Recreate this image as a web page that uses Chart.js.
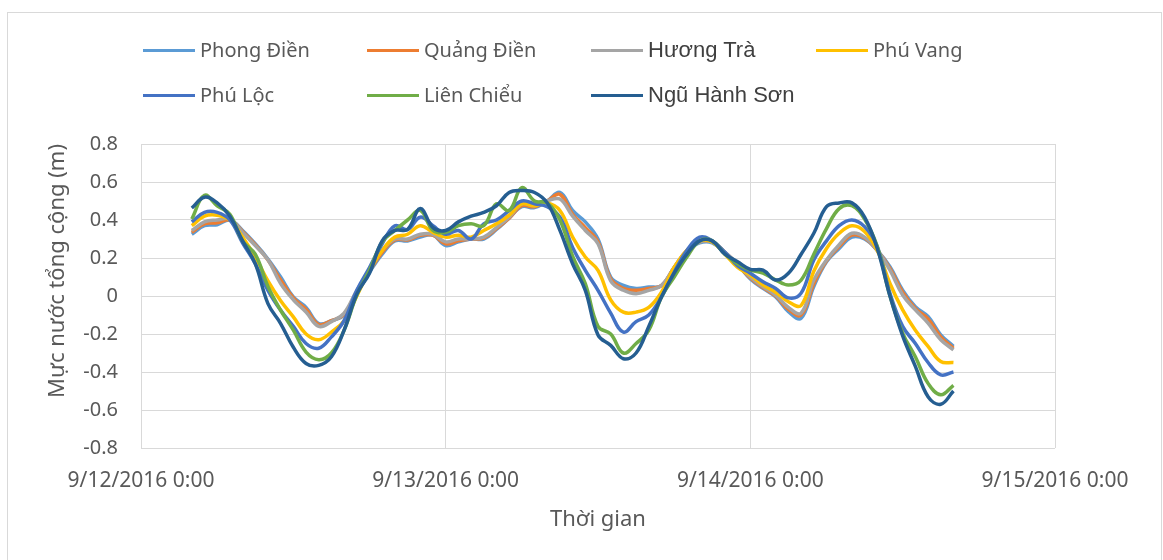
<!DOCTYPE html>
<html>
<head>
<meta charset="utf-8">
<script src="https://cdn.jsdelivr.net/npm/chart.js@4"></script>
<style>
  html, body { margin: 0; padding: 0; background: #fff; }
  body { width: 1163px; height: 560px; position: relative; overflow: hidden; }
  #frame { position: absolute; left: 7px; top: 12px; width: 1153px; height: 600px; border: 1px solid #D9D9D9; }
  #myChart { position: absolute; left: 0; top: 0; }
  .lg-line { position: absolute; width: 52px; height: 3px; }
  .lg-text { position: absolute; white-space: nowrap; line-height: 30px; height: 30px; }
</style>
</head>
<body>
<div id="frame"></div>
<canvas id="myChart" width="1163" height="560"></canvas>
<div id="legend"></div>
<script>
// hours since 9/12/2016 0:00 (hourly, 4:00 on 9/12 to 16:00 on 9/14)
const hours = [];
for (let h = 4; h <= 64; h++) hours.push(h);

const seriesNames = ['Phong Điền', 'Quảng Điền', 'Hương Trà', 'Phú Vang', 'Phú Lộc', 'Liên Chiểu', 'Ngũ Hành Sơn'];
const colors = ['#5B9BD5', '#ED7D31', '#A5A5A5', '#FFC000', '#4472C4', '#70AD47', '#255E91'];

const phongDien = [
  0.325, 0.37, 0.375, 0.40, 0.345, 0.275, 0.195, 0.10, -0.005, -0.06,
  -0.145, -0.13, -0.10, 0.012, 0.125, 0.22, 0.29, 0.29, 0.31, 0.32,
  0.265, 0.285, 0.30, 0.30, 0.35, 0.41, 0.47, 0.465, 0.50, 0.545,
  0.45, 0.39, 0.30, 0.10, 0.056, 0.04, 0.047, 0.055, 0.15, 0.235,
  0.28, 0.28, 0.225, 0.165, 0.09, 0.04, -0.005, -0.082, -0.117, 0.05,
  0.18, 0.25, 0.31, 0.30, 0.24, 0.154, 0.031, -0.056, -0.108, -0.204,
  -0.265
];
const quangDien = [
  0.335, 0.38, 0.385, 0.40, 0.34, 0.27, 0.19, 0.085, -0.01, -0.07,
  -0.15, -0.13, -0.095, 0.02, 0.13, 0.23, 0.295, 0.295, 0.32, 0.32,
  0.275, 0.29, 0.30, 0.305, 0.355, 0.41, 0.475, 0.47, 0.50, 0.535,
  0.43, 0.36, 0.285, 0.09, 0.04, 0.03, 0.04, 0.055, 0.15, 0.24,
  0.285, 0.285, 0.23, 0.165, 0.095, 0.045, 0.0, -0.07, -0.10, 0.065,
  0.185, 0.26, 0.32, 0.305, 0.24, 0.145, 0.02, -0.065, -0.12, -0.215,
  -0.275
];
const huongTra = [
  0.345, 0.39, 0.40, 0.405, 0.335, 0.265, 0.19, 0.065, -0.02, -0.085,
  -0.16, -0.135, -0.09, 0.03, 0.135, 0.24, 0.30, 0.30, 0.325, 0.325,
  0.285, 0.30, 0.30, 0.31, 0.36, 0.415, 0.485, 0.475, 0.50, 0.51,
  0.42, 0.345, 0.275, 0.08, 0.03, 0.012, 0.03, 0.055, 0.15, 0.24,
  0.285, 0.285, 0.23, 0.17, 0.10, 0.05, 0.005, -0.06, -0.09, 0.084,
  0.19, 0.27, 0.33, 0.31, 0.24, 0.136, 0.005, -0.073, -0.143, -0.23,
  -0.283
];
const phuVang = [
  0.37, 0.42, 0.425, 0.40, 0.31, 0.205, 0.08, -0.025, -0.11, -0.20,
  -0.23, -0.19, -0.13, 0.0, 0.135, 0.24, 0.31, 0.325, 0.37, 0.335,
  0.31, 0.32, 0.31, 0.345, 0.38, 0.425, 0.485, 0.475, 0.49, 0.45,
  0.31, 0.205, 0.135, -0.02, -0.085, -0.085, -0.06, 0.02, 0.15, 0.24,
  0.29, 0.285, 0.22, 0.15, 0.11, 0.058, 0.02, -0.03, -0.05, 0.13,
  0.25, 0.33, 0.37, 0.34, 0.24, 0.066, -0.073, -0.18, -0.265, -0.345,
  -0.35
];
const phuLoc = [
  0.39, 0.44, 0.44, 0.40, 0.28, 0.17, 0.03, -0.075, -0.16, -0.25,
  -0.275, -0.215, -0.13, 0.03, 0.15, 0.275, 0.37, 0.35, 0.415, 0.37,
  0.325, 0.345, 0.30, 0.38, 0.40, 0.45, 0.50, 0.485, 0.47, 0.415,
  0.255, 0.135, 0.03, -0.09, -0.19, -0.135, -0.10, -0.005, 0.125, 0.24,
  0.31, 0.29, 0.23, 0.16, 0.12, 0.075, 0.04, -0.01, 0.015, 0.19,
  0.29, 0.37, 0.40, 0.365, 0.26, 0.014, -0.16, -0.25, -0.35, -0.415,
  -0.40
];
const lienChieu = [
  0.405, 0.53, 0.475, 0.43, 0.29, 0.22, 0.05, -0.075, -0.18, -0.295,
  -0.335, -0.30, -0.18, 0.005, 0.135, 0.285, 0.345, 0.40, 0.45, 0.345,
  0.335, 0.37, 0.38, 0.37, 0.485, 0.45, 0.57, 0.50, 0.49, 0.40,
  0.21, 0.065, -0.16, -0.20, -0.30, -0.25, -0.18, -0.005, 0.10, 0.205,
  0.29, 0.29, 0.22, 0.17, 0.136, 0.12, 0.084, 0.058, 0.084, 0.22,
  0.355, 0.46, 0.475, 0.405, 0.26, 0.0, -0.195, -0.32, -0.46, -0.52,
  -0.47
];
const nguHanhSon = [
  0.463, 0.52, 0.49, 0.42, 0.29, 0.17, -0.04, -0.145, -0.27, -0.355,
  -0.365, -0.32, -0.18, 0.01, 0.12, 0.29, 0.345, 0.35, 0.46, 0.36,
  0.345, 0.39, 0.42, 0.44, 0.475, 0.545, 0.555, 0.545, 0.49, 0.345,
  0.17, 0.03, -0.205, -0.26, -0.33, -0.30, -0.16, -0.005, 0.12, 0.22,
  0.29, 0.29, 0.22, 0.18, 0.14, 0.136, 0.084, 0.12, 0.22, 0.33,
  0.47, 0.49, 0.49, 0.415, 0.25, 0.0, -0.21, -0.37, -0.53, -0.57,
  -0.50
];

const allSeries = [phongDien, quangDien, huongTra, phuVang, phuLoc, lienChieu, nguHanhSon];
const xTickLabels = ['9/12/2016 0:00', '9/13/2016 0:00', '9/14/2016 0:00', '9/15/2016 0:00'];

const textColor = '#595959';
const gridColor = '#D9D9D9';

const ctx = document.getElementById('myChart').getContext('2d');

var myChart = new Chart(ctx, {
    type: 'line',
    data: {
        datasets: allSeries.map((vals, i) => ({
            label: seriesNames[i],
            data: hours.map((h, j) => ({ x: h, y: vals[j] })),
            borderColor: colors[i],
            backgroundColor: colors[i],
            order: allSeries.length - 1 - i
        }))
    },
    options: {
        responsive: false,
        animation: false,
        layout: { padding: { left: 0, right: 108, top: 144, bottom: 0 } },
        plugins: {
            legend: { display: false },
            tooltip: { enabled: false }
        },
        elements: {
            point: { radius: 0 },
            line: { borderWidth: 3.5, tension: 0.4 }
        },
        scales: {
            x: {
                type: 'linear',
                min: 0,
                max: 72,
                ticks: {
                    stepSize: 24,
                    maxRotation: 0,
                    autoSkip: false,
                    padding: 20,
                    color: textColor,
                    font: { family: 'Noto Sans', size: 21 },
                    callback: (v) => xTickLabels[Math.round(v / 24)]
                },
                grid: { color: gridColor, lineWidth: 1, drawTicks: false },
                border: { display: false },
                title: {
                    display: true,
                    text: 'Thời gian',
                    color: textColor,
                    font: { family: 'Noto Sans', size: 22 },
                    padding: { top: 0, bottom: 27 }
                },
                afterFit: (scale) => { scale.height = 112; }
            },
            y: {
                min: -0.8,
                max: 0.8,
                ticks: {
                    stepSize: 0.2,
                    padding: 23,
                    color: textColor,
                    font: { family: 'Noto Sans', size: 20 },
                    callback: (v) => String(Math.round(v * 10) / 10)
                },
                grid: { color: gridColor, lineWidth: 1, drawTicks: false },
                border: { display: false },
                title: {
                    display: true,
                    text: 'Mực nước tổng cộng (m)',
                    align: 'end',
                    color: textColor,
                    font: { family: 'Noto Sans', size: 22 },
                    padding: { top: 45, bottom: 0 }
                },
                afterFit: (scale) => { scale.width = 141; }
            }
        }
    }
});

// legend, laid out in fixed columns like the original
const legendCols = [143, 367, 591, 816];
const legendRows = [50, 95];
const legend = document.getElementById('legend');
seriesNames.forEach((name, i) => {
    const col = legendCols[i < 4 ? i : i - 4];
    const rowY = legendRows[i < 4 ? 0 : 1];
    const line = document.createElement('div');
    line.className = 'lg-line';
    line.style.left = col + 'px';
    line.style.top = (rowY - 1.5) + 'px';
    line.style.background = colors[i];
    legend.appendChild(line);
    const txt = document.createElement('div');
    txt.className = 'lg-text';
    txt.textContent = name;
    txt.style.left = (col + 57) + 'px';
    txt.style.top = (rowY - 15) + 'px';
    const bigger = (name === 'Hương Trà' || name === 'Ngũ Hành Sơn');
    txt.style.fontFamily = bigger ? '"Liberation Sans", Arial, sans-serif' : '"Noto Sans", sans-serif';
    txt.style.fontSize = bigger ? '22px' : '20px';
    txt.style.color = bigger ? '#404040' : textColor;
    legend.appendChild(txt);
});
</script>
</body>
</html>
